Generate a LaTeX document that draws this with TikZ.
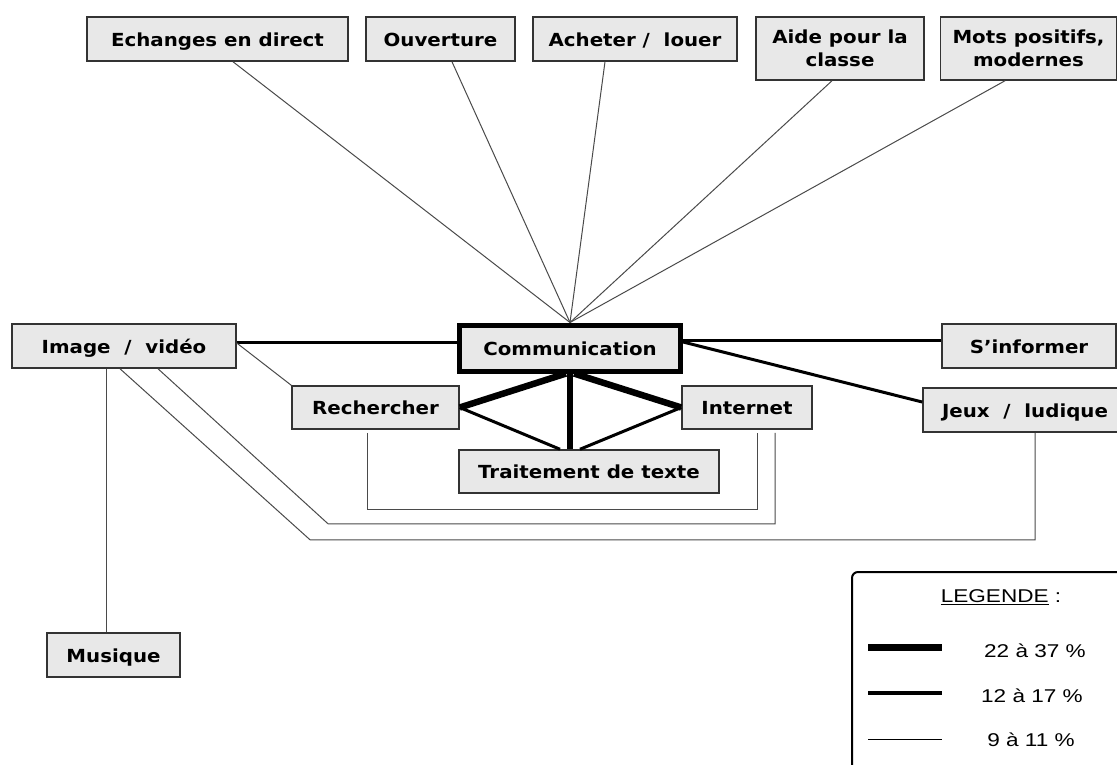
\documentclass[tikz,border=0pt]{standalone}
\usepackage{fontspec}
\newfontfamily\boxfont[FakeStretch=1.1]{DejaVu Sans}
\newfontfamily\legfont[FakeStretch=1.22]{Liberation Sans}
\definecolor{boxfill}{HTML}{E8E8E8}
\definecolor{edgec}{HTML}{333333}
\definecolor{thinc}{HTML}{4A4A4A}
\begin{document}
\begin{tikzpicture}[x=1pt,y=-1pt,
  lab/.style={draw=edgec, line width=1.5pt, fill=boxfill, inner sep=0pt,
    font=\boxfont\bfseries\fontsize{18}{23}\selectfont, align=center, text=black},
  one/.style={lab, text height=14pt, text depth=0pt},
  hub/.style={one, draw=black, line width=5pt},
  lkthin/.style={draw=thinc, line width=1pt},
  lkmed/.style={draw=black, line width=3pt},
  lkthick/.style={draw=black, line width=6.5pt},
  legtext/.style={font=\legfont\fontsize{18.5}{21}\selectfont, text=black, inner sep=0pt}
]
\useasboundingbox (0,0) rectangle (1117,764);

% nodes
\node[one, minimum width=261pt, minimum height=44pt] (ech) at (217.5,39) {Echanges en direct};
\node[one, minimum width=149pt, minimum height=44pt] (ouv) at (440.5,39) {Ouverture};
\node[one, minimum width=204pt, minimum height=44pt] (ach) at (635,39) {Acheter /~~louer};
\node[lab, minimum width=168pt, minimum height=63pt] (aide) at (840,48.5) {Aide pour la\\classe};
\node[lab, minimum width=176pt, minimum height=63pt] (mots) at (1028.5,48.5) {Mots positifs,\\modernes};

\node[hub, minimum width=221pt, minimum height=46pt] (comm) at (570,348) {Communication};
\node[one, minimum width=224pt, minimum height=44pt] (image) at (124,346) {Image~~/~~vidéo};
\node[one, minimum width=174pt, minimum height=44pt] (sinf) at (1029,346) {S’informer};
\node[one, minimum width=167pt, minimum height=43pt] (rech) at (375.5,407.5) {Rechercher};
\node[one, minimum width=130pt, minimum height=43pt] (inter) at (747,407.5) {Internet};
\node[one, minimum width=260pt, minimum height=43pt] (trait) at (589,471.5) {Traitement de texte};
\node[one, minimum width=204pt, minimum height=44pt] (jeux) at (1025,410) {Jeux~~/~~ludique};
\node[one, minimum width=133pt, minimum height=44pt] (mus) at (113.5,655) {Musique};

% thin connectors from top
\draw[lkthin] ([xshift=15.5pt]ech.south) -- (comm.north);
\draw[lkthin] ([xshift=11.5pt]ouv.south) -- (comm.north);
\draw[lkthin] ([xshift=-30pt]ach.south) -- (comm.north);
\draw[lkthin] ([xshift=-8pt]aide.south) -- (comm.north);
\draw[lkthin] ([xshift=-23.5pt]mots.south) -- (comm.north);

% medium connectors
\draw[lkmed] ([yshift=4pt]image.east) -- ([yshift=6pt]comm.west);
\draw[lkmed] ([yshift=8pt]comm.east) -- ([yshift=6pt]sinf.west);
\draw[lkmed] ([yshift=6pt]comm.east) -- ([yshift=8pt]jeux.west);
\draw[lkmed] (rech.east) -- ([xshift=-29pt]trait.north);
\draw[lkmed] (inter.west) -- ([xshift=-9pt]trait.north);

% thick connectors
\draw[lkthick] ([xshift=-4pt]comm.south) -- (rech.east);
\draw[lkthick] (comm.south) -- ([xshift=-19pt]trait.north);
\draw[lkthick] ([xshift=4pt]comm.south) -- (inter.west);

% thin connectors below
\draw[lkthin] ([yshift=3pt]image.east) -- (rech.north west);
\draw[lkthin] ([xshift=-8.5pt,yshift=-3pt]rech.south) -- ++(0,77) -| ([xshift=10pt,yshift=-3pt]inter.south);
\draw[lkthin] ([xshift=34pt]image.south) -- ++(170,155) -| ([xshift=28pt,yshift=-3pt]inter.south);
\draw[lkthin] ([xshift=-4pt]image.south) -- ++(190,171) -| ([xshift=10pt]jeux.south);
\draw[lkthin] ([xshift=-18pt]image.south) -- ([xshift=-7.5pt]mus.north);

% legend
\draw[line width=2pt, draw=black, rounded corners=6pt] (1130,572) -- (852,572) -- (852,790);
\node[legtext] (legtitle) at (1001,597) {\underline{LEGENDE}~:};
\coordinate (la1) at (868,647); \coordinate (lb1) at (942,647);
\coordinate (la2) at (868,693); \coordinate (lb2) at (942,693);
\coordinate (la3) at (868,739); \coordinate (lb3) at (942,739);
\draw[line width=7pt, draw=black] (la1) -- (lb1);
\draw[line width=4pt, draw=black] (la2) -- (lb2);
\draw[line width=1pt, draw=black] (la3) -- (lb3);
\node[legtext] (leg1) at (1035,651) {22 à 37 \%};
\node[legtext] (leg2) at (1032,696) {12 à 17 \%};
\node[legtext] (leg3) at (1031,740) {9 à 11 \%};
\end{tikzpicture}
\end{document}
